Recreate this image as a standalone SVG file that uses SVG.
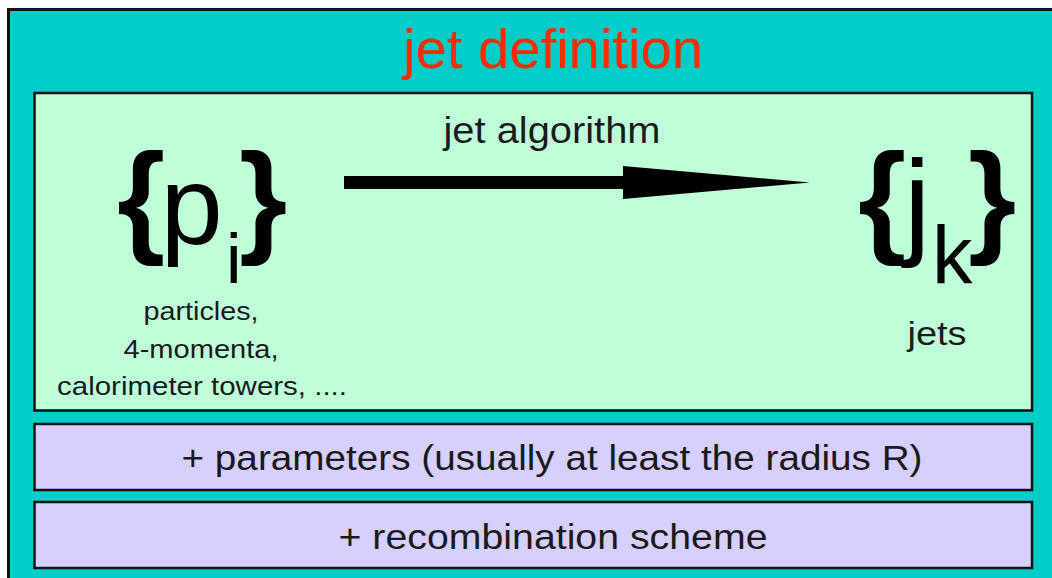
<svg xmlns="http://www.w3.org/2000/svg" width="1052" height="578" viewBox="0 0 1052 578">
  <style>
    .box { stroke: #111; stroke-width: 2.5; }
    .outer { fill: #00CCC8; stroke: #111; stroke-width: 3; }
    .green { fill: #BEFFD8; }
    .purple { fill: #D6D0FF; }
    .t { font-family: "Liberation Sans", Arial, sans-serif; fill: #1a1a1a; }
    .title { font-family: "Liberation Sans", Arial, sans-serif; fill: #FF2A00; }
    .big { font-family: "Liberation Sans", Arial, sans-serif; fill: #000; }
    .brace { font-family: "Liberation Sans", Arial, sans-serif; fill: #000; font-weight: bold; }
  </style>
  <defs>
    <marker id="head" markerUnits="userSpaceOnUse" markerWidth="190" markerHeight="36" refX="0" refY="16.5" orient="auto" viewBox="0 0 190 36">
      <path d="M0,0 L187,16.5 L0,33 Z" fill="#000"/>
    </marker>
  </defs>
  <rect width="1052" height="578" fill="#ffffff"/>
  <g id="jet-definition">
    <rect class="outer" x="8.5" y="9.5" width="1060" height="590"/>
    <text class="title" x="553" y="68" font-size="55" text-anchor="middle" textLength="300" lengthAdjust="spacingAndGlyphs">jet definition</text>
  </g>
  <g id="algorithm-box">
    <rect class="box green" x="34.5" y="93" width="997.5" height="317.5"/>
  </g>
  <g id="input-particles">
    <text class="brace" x="117" y="240" font-size="124">{</text>
    <text class="big" x="160.6" y="244" font-size="112">p</text>
    <text class="big" x="226" y="283" font-size="70">i</text>
    <text class="brace" x="239" y="240" font-size="124">}</text>
    <text class="t" x="201" y="320" font-size="26" text-anchor="middle" textLength="115" lengthAdjust="spacingAndGlyphs">particles,</text>
    <text class="t" x="201" y="358" font-size="26" text-anchor="middle" textLength="155" lengthAdjust="spacingAndGlyphs">4-momenta,</text>
    <text class="t" x="202" y="395" font-size="26" text-anchor="middle" textLength="290" lengthAdjust="spacingAndGlyphs">calorimeter towers, ....</text>
  </g>
  <g id="output-jets">
    <text class="brace" x="858" y="240" font-size="124">{</text>
    <text class="big" x="904" y="243" font-size="119">j</text>
    <text class="big" x="932" y="283" font-size="81">k</text>
    <text class="brace" x="968" y="240" font-size="124">}</text>
    <text class="t" x="937" y="345" font-size="34" text-anchor="middle" textLength="59" lengthAdjust="spacingAndGlyphs">jets</text>
  </g>
  <g id="connectors">
    <line x1="344" y1="182.5" x2="623" y2="182.5" stroke="#000" stroke-width="13" marker-end="url(#head)"/>
    <text class="t" x="552" y="143" font-size="36" text-anchor="middle" textLength="217" lengthAdjust="spacingAndGlyphs">jet algorithm</text>
  </g>
  <g id="parameters">
    <rect class="box purple" x="34.5" y="424" width="997.5" height="66"/>
    <text class="t" x="552" y="470" font-size="35" text-anchor="middle" textLength="741" lengthAdjust="spacingAndGlyphs">+ parameters (usually at least the radius R)</text>
  </g>
  <g id="recombination">
    <rect class="box purple" x="34.5" y="502" width="997.5" height="66"/>
    <text class="t" x="553" y="549" font-size="35" text-anchor="middle" textLength="429" lengthAdjust="spacingAndGlyphs">+ recombination scheme</text>
  </g>
</svg>
